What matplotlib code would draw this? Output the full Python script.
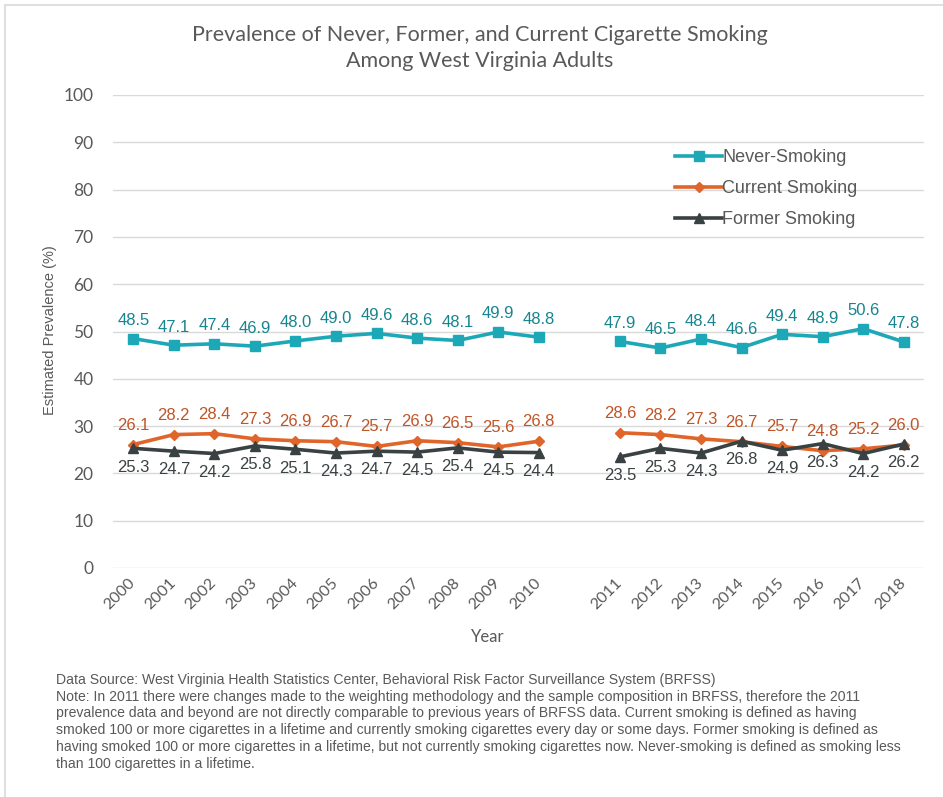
import matplotlib
matplotlib.use("Agg")
import matplotlib.pyplot as plt
import numpy as np
from matplotlib.patches import Rectangle

years = ["2000", "2001", "2002", "2003", "2004", "2005", "2006", "2007", "2008", "2009", "2010",
         "", "2011", "2012", "2013", "2014", "2015", "2016", "2017", "2018"]
never = [48.5, 47.1, 47.4, 46.9, 48.0, 49.0, 49.6, 48.6, 48.1, 49.9, 48.8,
         np.nan, 47.9, 46.5, 48.4, 46.6, 49.4, 48.9, 50.6, 47.8]
current = [26.1, 28.2, 28.4, 27.3, 26.9, 26.7, 25.7, 26.9, 26.5, 25.6, 26.8,
           np.nan, 28.6, 28.2, 27.3, 26.7, 25.7, 24.8, 25.2, 26.0]
former = [25.3, 24.7, 24.2, 25.8, 25.1, 24.3, 24.7, 24.5, 25.4, 24.5, 24.4,
          np.nan, 23.5, 25.3, 24.3, 26.8, 24.9, 26.3, 24.2, 26.2]
yticks = [0, 10, 20, 30, 40, 50, 60, 70, 80, 90, 100]

title = "Prevalence of Never, Former, and Current Cigarette Smoking\nAmong West Virginia Adults"
note = ("Data Source: West Virginia Health Statistics Center, Behavioral Risk Factor Surveillance System (BRFSS)\n"
        "Note: In 2011 there were changes made to the weighting methodology and the sample composition in BRFSS, therefore the 2011\n"
        "prevalence data and beyond are not directly comparable to previous years of BRFSS data. Current smoking is defined as having\n"
        "smoked 100 or more cigarettes in a lifetime and currently smoking cigarettes every day or some days. Former smoking is defined as\n"
        "having smoked 100 or more cigarettes in a lifetime, but not currently smoking cigarettes now. Never-smoking is defined as smoking less\n"
        "than 100 cigarettes in a lifetime.")

c_never, c_never_lbl = "#1DA8B7", "#16858F"
c_cur, c_cur_lbl = "#E0652A", "#BF5427"
c_for, c_for_lbl = "#3A4143", "#3A4143"
gray = "#595959"

fig = plt.figure(figsize=(9.43, 7.97), dpi=100)
fig.patches.append(Rectangle((5/943, -0.01), 1.0, 1 - 5/797 + 0.01, transform=fig.transFigure,
                             fill=False, edgecolor="#D9D9D9", linewidth=1.2))
ax = fig.add_axes([113/943, 1 - 568/797, (924 - 113)/943, (568 - 95)/797])

x = np.arange(len(years))
series = [
    (never, "Never-Smoking", c_never, c_never_lbl, "s", 7.5, 13),
    (current, "Current Smoking", c_cur, c_cur_lbl, "D", 5.5, 14),
    (former, "Former Smoking", c_for, c_for_lbl, "^", 7.5, -13.5),
]
for vals, name, col, lcol, mk, ms, off in series:
    ax.plot(x, vals, color=col, lw=2.6, marker=mk, markersize=ms, label=name, zorder=3)
    for xi, v in zip(x, vals):
        if np.isnan(v):
            continue
        ax.annotate(f"{v:.1f}", (xi, v), xytext=(0, off), textcoords="offset points",
                    ha="center", va="center", fontsize=12, color=lcol,
                    family=["Liberation Sans", "DejaVu Sans"])

ax.set_xlim(-0.5, len(years) - 0.5)
ax.set_ylim(0, 100)
ax.set_yticks(yticks)
ax.set_xticks(x)
ax.set_xticklabels(years, rotation=45, ha="right", va="center", rotation_mode="anchor",
                   fontsize=11.5, color=gray, family=["Lato", "DejaVu Sans"])
ax.tick_params(axis="x", length=0, pad=9)
ax.tick_params(axis="y", length=0, pad=14, labelsize=12.5, labelcolor=gray)
for lab in ax.get_yticklabels():
    lab.set_family(["Lato", "DejaVu Sans"])
ax.grid(axis="y", color="#D9D9D9", lw=1)
ax.set_axisbelow(True)
for s in ax.spines.values():
    s.set_visible(False)

fig.text(50/943, 1 - 330/797, "Estimated Prevalence (%)", rotation=90, ha="center", va="center",
         fontsize=10.5, color=gray, family=["Liberation Sans", "DejaVu Sans"])
fig.text(488/943, 1 - 637/797, "Year", ha="center", va="center", fontsize=12,
         color=gray, family=["Lato", "DejaVu Sans"])
fig.text(480/943, 1 - 48/797, title, ha="center", va="center", fontsize=15.5, color=gray,
         linespacing=1.35, family=["Lato", "DejaVu Sans"])

leg = ax.legend(loc="upper left", bbox_to_anchor=(546/811, 1 - 38/473), frameon=False,
                handlelength=2.6, handletextpad=0.0, labelspacing=0.78,
                prop={"family": ["Liberation Sans", "DejaVu Sans"], "size": 13})
for t in leg.get_texts():
    t.set_color(gray)

fig.text(56/943, 1 - 673/797, note, ha="left", va="top", fontsize=10.1, color=gray,
         linespacing=1.25, family=["Liberation Sans Narrow", "Liberation Sans", "DejaVu Sans"])

fig.savefig("out.png", dpi=100)
